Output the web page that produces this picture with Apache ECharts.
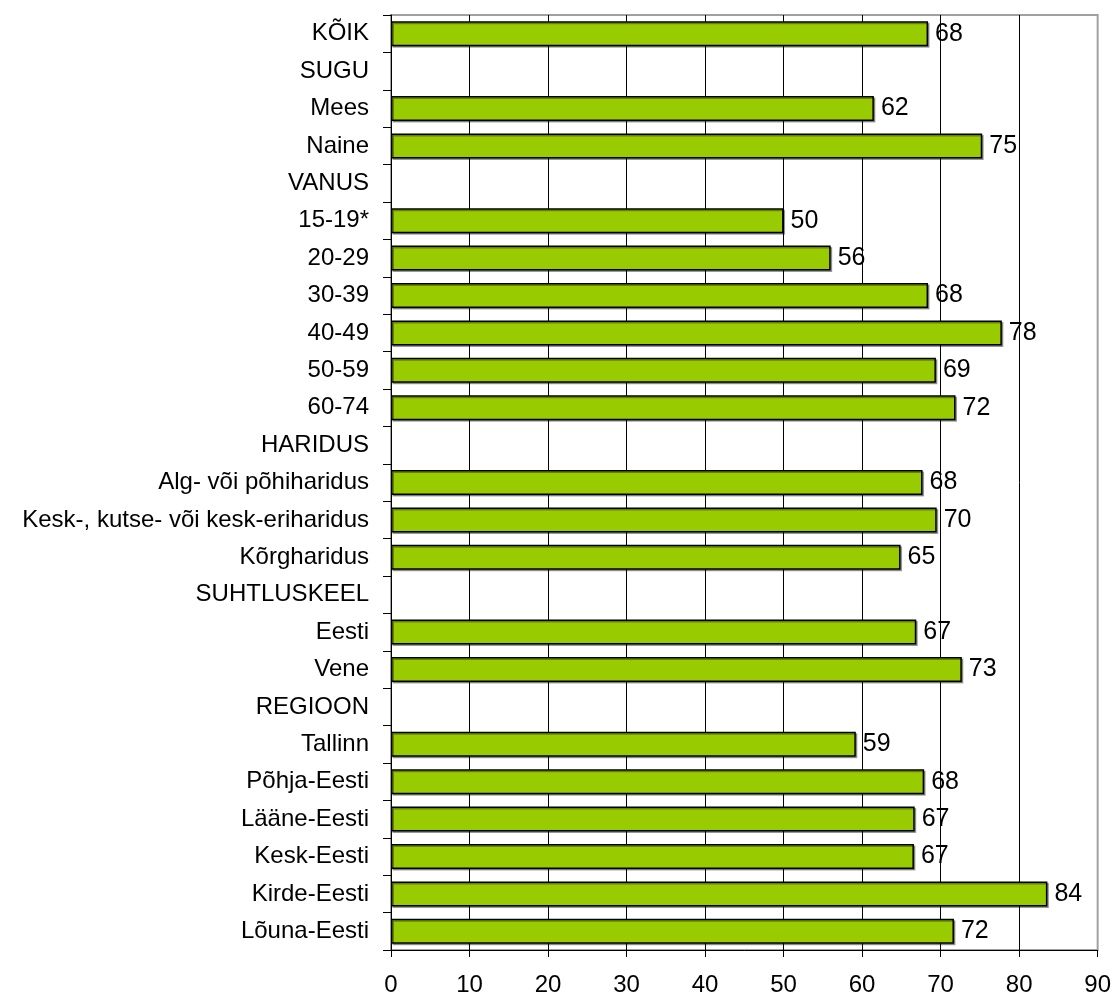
<!DOCTYPE html>
<html>
<head>
<meta charset="utf-8">
<script src="https://cdn.jsdelivr.net/npm/echarts@6/dist/echarts.min.js"></script>
<style>
html,body{margin:0;padding:0;background:#fff;}
#chart{width:1114px;height:997px;}
</style>
</head>
<body>
<div id="chart"></div>
<script>
const categories = [
  'KÕIK','SUGU','Mees','Naine','VANUS','15-19*','20-29','30-39','40-49','50-59','60-74',
  'HARIDUS','Alg- või põhiharidus','Kesk-, kutse- või kesk-eriharidus','Kõrgharidus',
  'SUHTLUSKEEL','Eesti','Vene','REGIOON','Tallinn','Põhja-Eesti','Lääne-Eesti','Kesk-Eesti','Kirde-Eesti','Lõuna-Eesti'
];
const values = [
  68.4, null, 61.5, 75.3, null, 50.0, 56.0, 68.4, 77.8, 69.4, 71.9,
  null, 67.7, 69.5, 64.9,
  null, 66.9, 72.7, null, 59.2, 67.9, 66.7, 66.6, 83.6, 71.7
];
const xTicks = [0, 10, 20, 30, 40, 50, 60, 70, 80, 90];

const chart = echarts.init(document.getElementById('chart'), null, {renderer: 'canvas'});
const FONT = '"Liberation Sans", Arial, sans-serif';
chart.setOption({
  animation: false,
  backgroundColor: '#ffffff',
  grid: {
    left: 391, right: 16, top: 15, bottom: 46,
    show: true, borderColor: '#a0a0a0', borderWidth: 2, backgroundColor: 'transparent'
  },
  xAxis: {
    type: 'value',
    min: xTicks[0], max: xTicks[xTicks.length - 1], interval: 10,
    axisLine: {show: true, lineStyle: {color: '#000', width: 1}},
    axisTick: {show: true, length: 7, lineStyle: {color: '#000'}},
    axisLabel: {fontFamily: FONT, fontSize: 24, color: '#000', margin: 23},
    splitLine: {show: true, showMaxLine: false, lineStyle: {color: '#000', width: 1}}
  },
  yAxis: {
    type: 'category',
    data: categories,
    inverse: true,
    axisLine: {show: true, lineStyle: {color: '#000', width: 1}},
    axisTick: {show: true, length: 8, lineStyle: {color: '#000'}},
    axisLabel: {fontFamily: FONT, fontSize: 24, color: '#000', margin: 22, interval: 0}
  },
  series: [{
    type: 'bar',
    data: values,
    barWidth: 25,
    itemStyle: {
      color: '#99cc00', borderColor: '#000', borderWidth: 1.5,
      shadowColor: 'rgba(0,0,0,0.35)', shadowOffsetX: 1.5, shadowOffsetY: 1.5, shadowBlur: 0
    },
    label: {
      show: true, position: 'right', distance: 7,
      fontFamily: FONT, fontSize: 25, color: '#000',
      formatter: p => p.value == null ? '' : String(Math.round(p.value))
    }
  }]
});
</script>
</body>
</html>
